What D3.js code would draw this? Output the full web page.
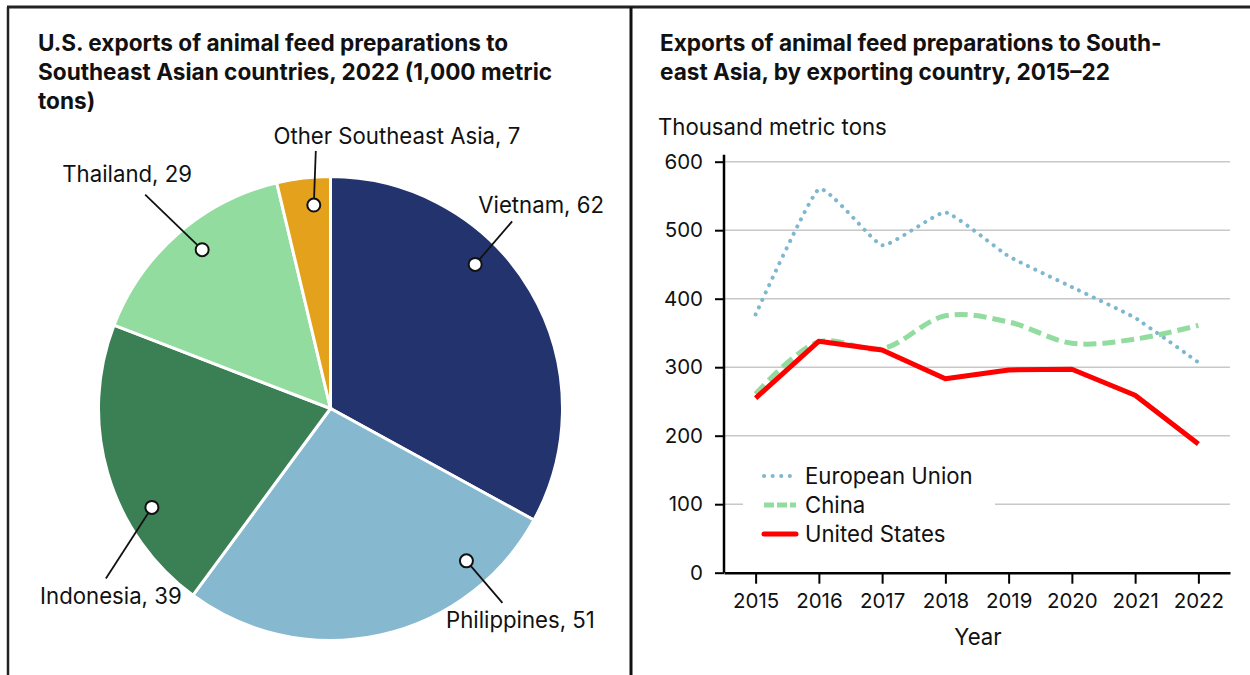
<!DOCTYPE html>
<html>
<head>
<meta charset="utf-8">
<script src="https://cdn.jsdelivr.net/npm/d3@7"></script>
<style>
  body { margin: 0; background: #fff; }
  svg text { font-family: Inter, Roboto, "Liberation Sans", sans-serif; fill: #111; }
</style>
</head>
<body>
<script>
// Pie data (1,000 metric tons, 2022)
var pieCountries = ["Vietnam", "Philippines", "Indonesia", "Thailand", "Other Southeast Asia"];
var pieValues = [62, 51, 39, 29, 7];
var pieColors = ["#23336e", "#86b9cf", "#3b7f55", "#92dca0", "#e4a11b"];

// Line data (thousand metric tons)
var years = [2015, 2016, 2017, 2018, 2019, 2020, 2021, 2022];
var euValues = [377, 560, 478, 526, 462, 417, 372, 307];
var chinaValues = [261, 337, 327, 375, 366, 335, 341, 361];
var usValues = [255, 338, 325, 283, 296, 297, 259, 188];
var seriesNames = ["European Union", "China", "United States"];
var yTicks = [0, 100, 200, 300, 400, 500, 600];

var width = 1250, height = 675;
var fontSize = "22.2px";
var tickFont = "20.5px";

var svg = d3.select("body")
    .append("svg")
    .attr("width", width)
    .attr("height", height);

// frame
svg.append("line").attr("x1", 7).attr("x2", width).attr("y1", 7).attr("y2", 7)
    .attr("stroke", "#222").attr("stroke-width", 3);
svg.append("line").attr("x1", 8).attr("x2", 8).attr("y1", 7).attr("y2", height)
    .attr("stroke", "#222").attr("stroke-width", 2.5);
svg.append("line").attr("x1", 631).attr("x2", 631).attr("y1", 7).attr("y2", height)
    .attr("stroke", "#111").attr("stroke-width", 3);

// titles
function title(x, lines) {
    var t = svg.append("text")
        .attr("x", x).attr("y", 51)
        .style("font-size", "22.6px")
        .style("font-weight", "bold");
    t.selectAll("tspan").data(lines).enter().append("tspan")
        .attr("x", x)
        .attr("dy", function(d, i) { return i === 0 ? 0 : 29; })
        .text(function(d) { return d; });
}
title(38, ["U.S. exports of animal feed preparations to",
           "Southeast Asian countries, 2022 (1,000 metric",
           "tons)"]);
title(660, ["Exports of animal feed preparations to South-",
            "east Asia, by exporting country, 2015\u201322"]);

// ---------- Pie ----------
var cx = 330.5, cy = 408.5, R = 232;

var pie = d3.pie().sort(null)(pieValues);
var arc = d3.arc().innerRadius(0).outerRadius(R);

var pieG = svg.append("g").attr("transform", "translate(" + cx + "," + cy + ")");

pieG.selectAll("path")
    .data(pie)
    .enter()
    .append("path")
    .attr("d", arc)
    .attr("fill", function(d, i) { return pieColors[i]; })
    .attr("stroke", "#fff")
    .attr("stroke-width", 3);

// label layout: where along the slice the marker sits, leader offset, text offset
var labelLayout = [
    { t: 0.38, lx: 37, ly: -43, tx: 29, ty: -8 },
    { t: 0.20, lx: 36, ly: 42, tx: 18, ty: 25 },
    { t: 0.33, lx: -46, ly: 71, tx: 5, ty: 26 },
    { t: 0.54, lx: -57, ly: -55, tx: -18, ty: -13 },
    { t: 0.65, lx: 2, ly: -54, tx: 81, ty: -7 }
];

pie.forEach(function(d, i) {
    var L = labelLayout[i];
    var a = d.startAngle + (d.endAngle - d.startAngle) * L.t;
    var mx = Math.sin(a) * R * 0.88;
    var my = -Math.cos(a) * R * 0.88;
    var ex = mx + L.lx, ey = my + L.ly;
    pieG.append("line")
        .attr("x1", mx).attr("y1", my).attr("x2", ex).attr("y2", ey)
        .attr("stroke", "#111").attr("stroke-width", 1.8);
    pieG.append("circle")
        .attr("cx", mx).attr("cy", my).attr("r", 6.5)
        .attr("fill", "#fff").attr("stroke", "#111").attr("stroke-width", 2);
    pieG.append("text")
        .attr("x", ex + L.tx).attr("y", ey + L.ty)
        .attr("text-anchor", "middle")
        .style("font-size", fontSize)
        .text(pieCountries[i] + ", " + pieValues[i]);
});

// ---------- Line chart ----------
var x = d3.scalePoint().domain(years).range([724, 1230]).padding(0.5);
var y = d3.scaleLinear().domain([0, 600]).range([572.7, 161.7]);

svg.append("text")
    .attr("x", 658).attr("y", 135)
    .style("font-size", fontSize)
    .text("Thousand metric tons");

// gridlines
svg.append("g").selectAll("line")
    .data(yTicks.filter(function(d) { return d > 0; }))
    .enter()
    .append("line")
    .attr("x1", 724).attr("x2", 1230)
    .attr("y1", function(d) { return y(d); })
    .attr("y2", function(d) { return y(d); })
    .attr("stroke", "#c8c8c8")
    .attr("stroke-width", 1.5);

var yAxis = svg.append("g")
    .attr("transform", "translate(724,0)")
    .call(d3.axisLeft(y).tickValues(yTicks).tickSize(9).tickPadding(12));
yAxis.select(".domain").remove();
yAxis.selectAll("line").attr("stroke", "#000").attr("stroke-width", 2);
yAxis.selectAll("text").style("font-size", tickFont).attr("fill", "#111");
svg.append("line")
    .attr("x1", 724).attr("x2", 724)
    .attr("y1", y(600) - 7).attr("y2", y(0))
    .attr("stroke", "#000").attr("stroke-width", 2.5);

var xAxis = svg.append("g")
    .attr("transform", "translate(0," + y(0) + ")")
    .call(d3.axisBottom(x).tickSize(11).tickPadding(10).tickSizeOuter(0));
xAxis.select(".domain").attr("stroke", "#000").attr("stroke-width", 2.5);
xAxis.selectAll("line").attr("stroke", "#000").attr("stroke-width", 2);
xAxis.selectAll("text").style("font-size", tickFont).attr("fill", "#111");

svg.append("text")
    .attr("x", 978).attr("y", 645)
    .attr("text-anchor", "middle")
    .style("font-size", fontSize)
    .text("Year");

var lineEU = d3.line()
    .x(function(d, i) { return x(years[i]); })
    .y(function(d) { return y(d); })
    .curve(d3.curveCardinal.tension(0.6));
var lineCurve = d3.line()
    .x(function(d, i) { return x(years[i]); })
    .y(function(d) { return y(d); })
    .curve(d3.curveCatmullRom.alpha(0.5));
var lineStraight = d3.line()
    .x(function(d, i) { return x(years[i]); })
    .y(function(d) { return y(d); });

svg.append("path")
    .attr("d", lineEU(euValues))
    .attr("fill", "none")
    .attr("stroke", "#7fb7cf")
    .attr("stroke-width", 4)
    .attr("stroke-linecap", "round")
    .attr("stroke-dasharray", "0.1 8");

svg.append("path")
    .attr("d", lineCurve(chinaValues))
    .attr("fill", "none")
    .attr("stroke", "#92dca0")
    .attr("stroke-width", 5)
    .attr("stroke-dasharray", "13 6");

svg.append("path")
    .attr("d", lineStraight(usValues))
    .attr("fill", "none")
    .attr("stroke", "#ff0000")
    .attr("stroke-width", 5)
    .attr("stroke-linejoin", "round");

// legend
var legend = svg.append("g");
legend.append("rect")
    .attr("x", 743).attr("y", 456).attr("width", 252).attr("height", 94)
    .attr("fill", "#fff");

var legendStyles = [
    { color: "#7fb7cf", width: 4, dash: "0.1 8.5", cap: "round" },
    { color: "#92dca0", width: 5, dash: "10 3", cap: "butt" },
    { color: "#ff0000", width: 5, dash: null, cap: "round" }
];

seriesNames.forEach(function(name, i) {
    var ly = 476 + i * 29;
    var s = legendStyles[i];
    legend.append("line")
        .attr("x1", 764).attr("x2", 796)
        .attr("y1", ly).attr("y2", ly)
        .attr("stroke", s.color)
        .attr("stroke-width", s.width)
        .attr("stroke-linecap", s.cap)
        .attr("stroke-dasharray", s.dash);
    legend.append("text")
        .attr("x", 805).attr("y", ly + 7.5)
        .style("font-size", fontSize)
        .text(name);
});
</script>
</body>
</html>
